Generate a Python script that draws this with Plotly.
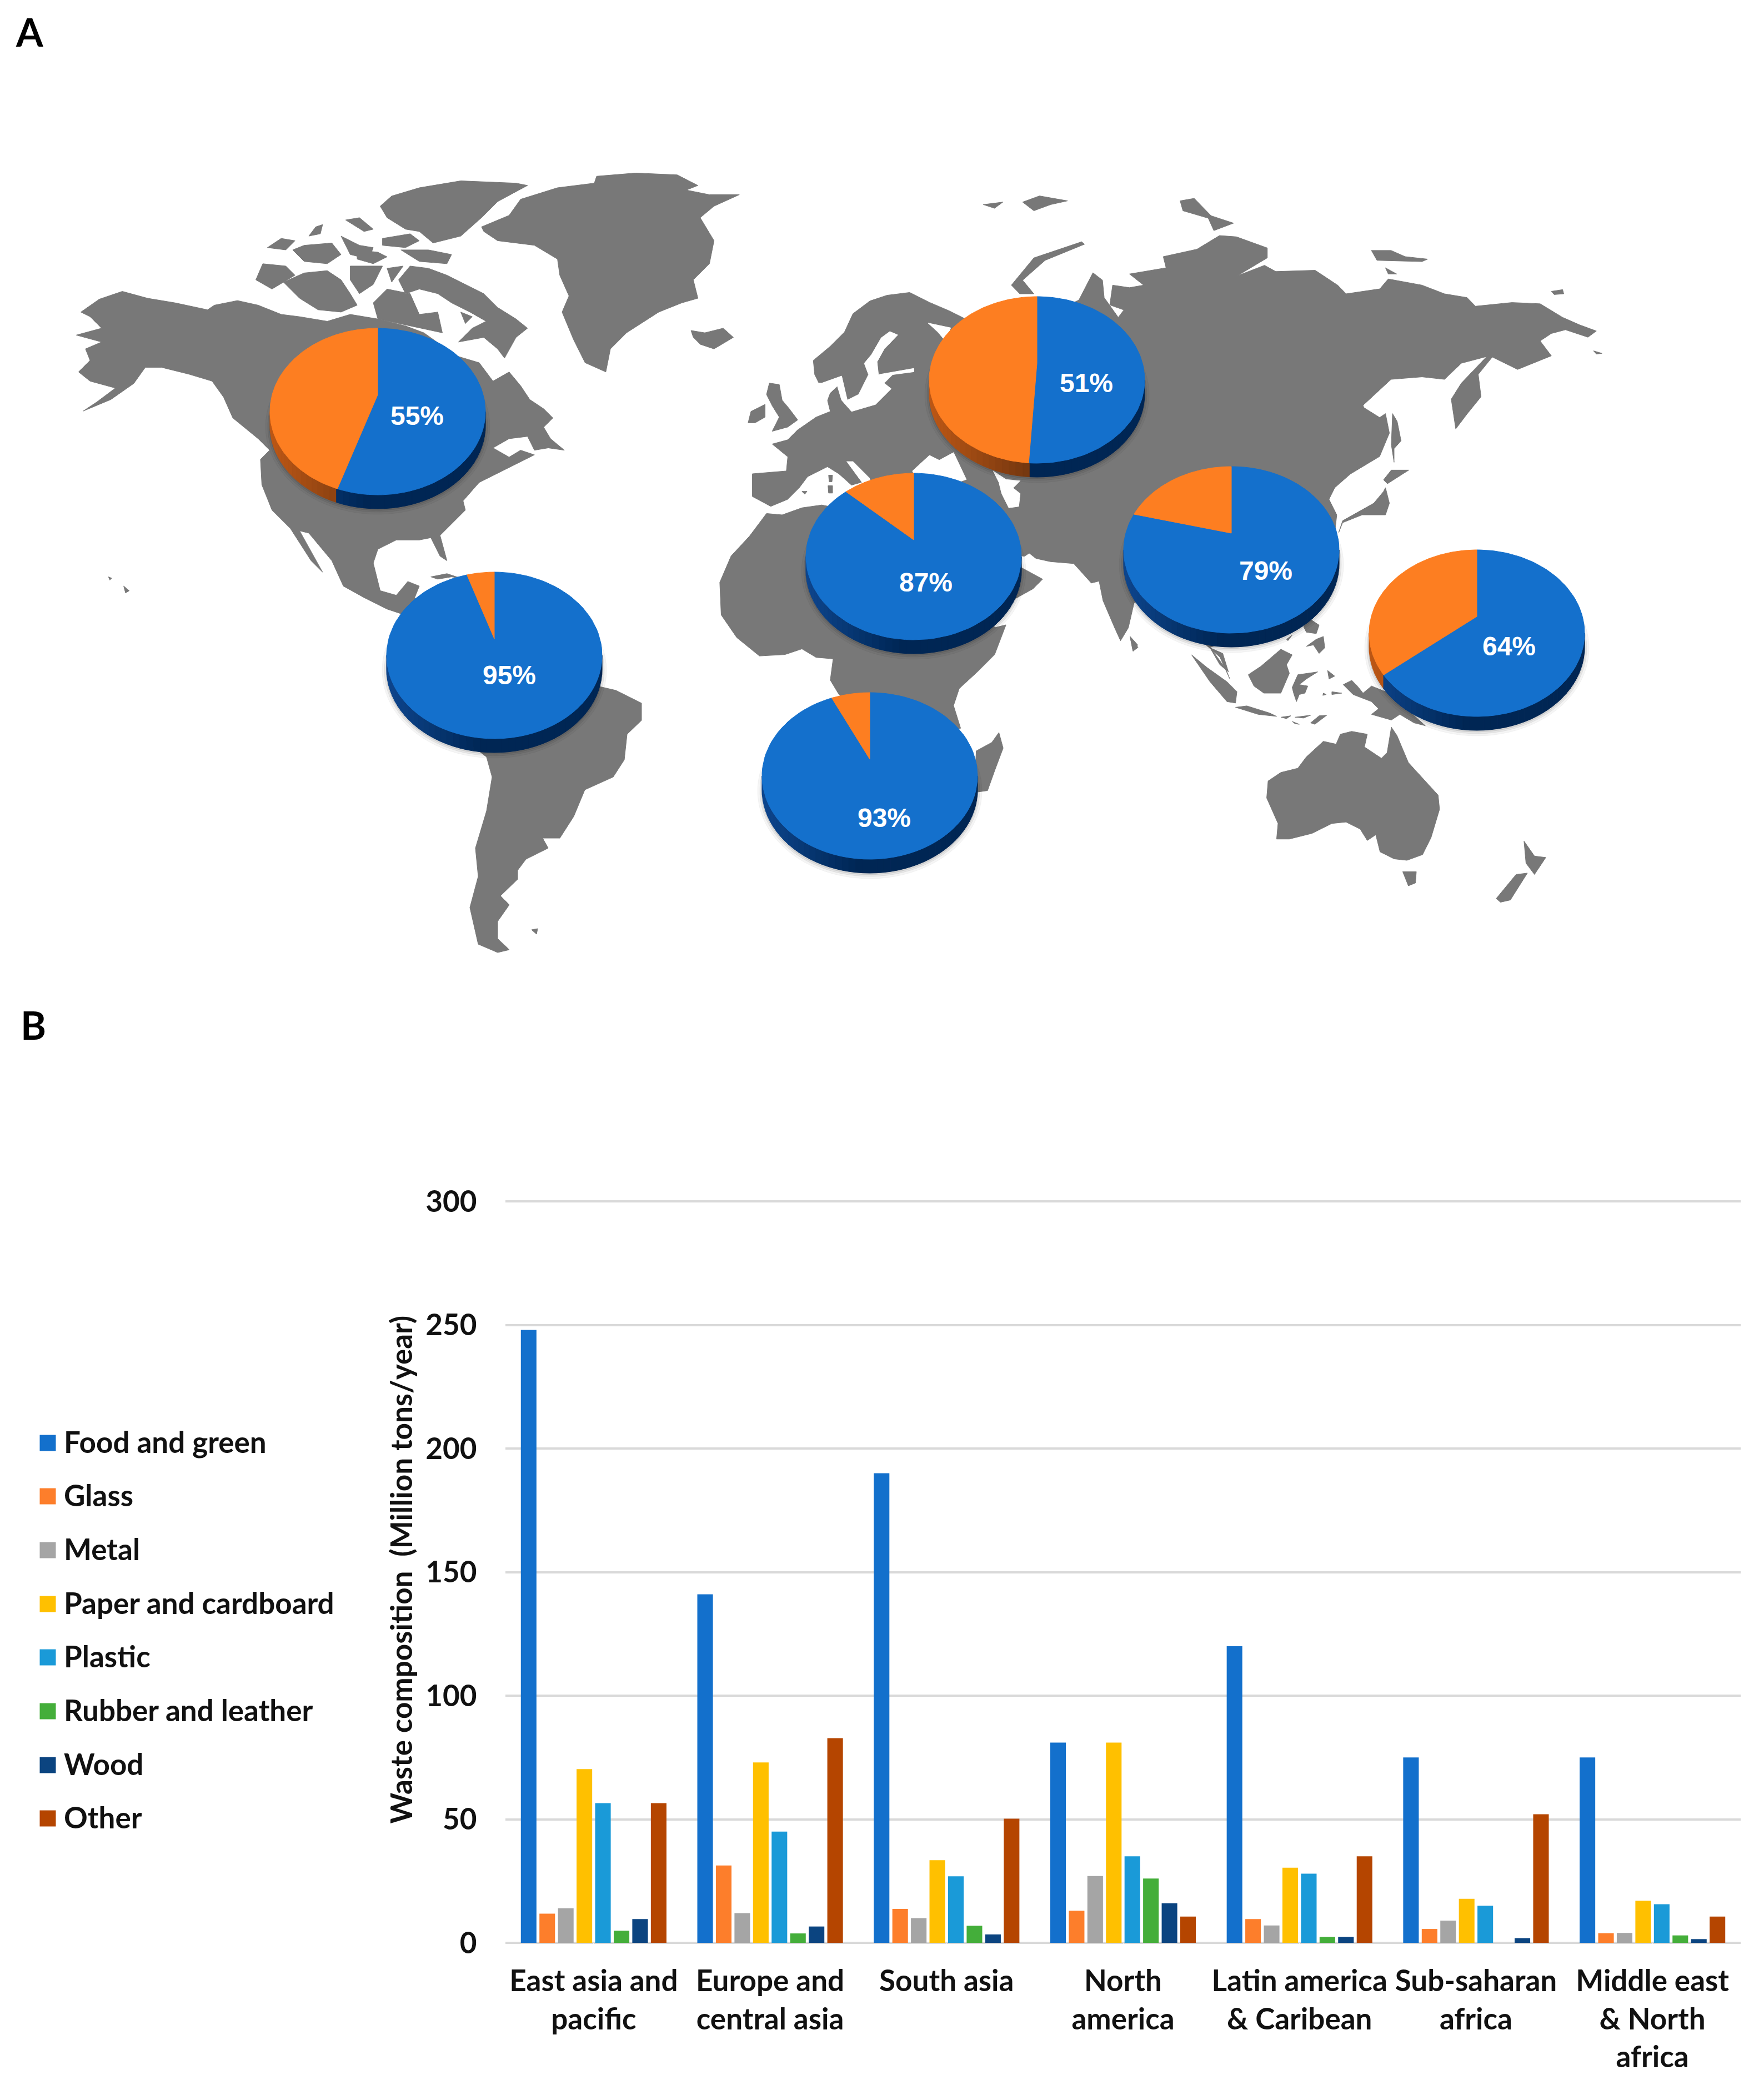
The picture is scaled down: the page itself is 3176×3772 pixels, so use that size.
import numpy as np
import plotly.graph_objects as go

# ---- bar chart data, million tons / year
REGIONS = ["East asia and<br>pacific", "Europe and<br>central asia", "South asia", "North<br>america",
           "Latin america<br>&amp; Caribean", "Sub-saharan<br>africa", "Middle east<br>&amp; North<br>africa"]
FOOD = [248, 141, 190, 81, 120, 75, 75]
GLASS = [11.8, 31.3, 13.7, 13, 9.6, 5.6, 3.9]
METAL = [14, 12, 10, 27, 7, 9, 4]
PAPER = [70.3, 73, 33.4, 81, 30.4, 17.8, 17]
PLASTIC = [56.5, 45, 26.9, 35, 28, 15, 15.6]
RUBBER = [4.9, 3.8, 6.9, 26, 2.4, 0, 3]
WOOD = [9.6, 6.6, 3.4, 16, 2.4, 1.9, 1.5]
OTHER = [56.5, 82.8, 50.2, 10.6, 35, 52, 10.6]
SERIES_NAMES = ["Food and green", "Glass", "Metal", "Paper and cardboard", "Plastic", "Rubber and leather", "Wood", "Other"]
SERIES_COLORS = ["#1370CC", "#FD7E2B", "#A5A5A5", "#FFC000", "#1A9AD8", "#44AE3A", "#0B4480", "#B54500"]
Y_TICKS = [0, 50, 100, 150, 200, 250, 300]

# ---- pies: share of food and green waste by region
PIE_SHARE = [55, 95, 51, 87, 79, 64, 93]
PIE_CX = [680, 890, 1867, 1645, 2217, 2659, 1566]
PIE_CY = [741, 1180, 684, 1002, 990, 1140, 1397]
PIE_LABEL_X = [751, 917, 1956, 1667, 2279, 2717, 1592]
PIE_LABEL_Y = [753, 1220, 694, 1053, 1032, 1168, 1477]

# ---- map outlines: (x, y) in the crop's 1568 square
C2 = (1588, 250, 1588, 700)
C7 = (100, 280, 1300, 1300)
C8 = (1250, 450, 800, 800)
C9 = (1250, 1000, 800, 800)
C10 = (1800, 450, 1100, 1100)
C11 = (2000, 1100, 800, 800)

N_AMERICA = [(55,340),(95,312),(145,295),(200,310),(260,320),(330,335),(345,325),(395,315),(440,325),(490,345),(530,350),(590,360),(640,345),(700,355),(760,370),(800,385),(870,435),(920,450),(950,490),(985,470),(1010,500),(1030,530),(1060,550),(1080,570),(1060,590),(1075,615),(1105,640),(1070,635),(1040,640),(1025,610),(985,615),(950,635),(985,655),(1010,640),(1040,650),(1000,670),(960,690),(920,710),(885,750),(890,770),(860,800),(835,825),(850,880),(835,870),(815,830),(790,835),(740,835),(700,855),(690,885),(705,945),(740,955),(765,925),(790,935),(780,960),(830,1050),(750,995),(720,985),(670,960),(625,935),(600,880),(550,820),(530,815),(555,860),(580,905),(555,880),(510,810),(470,770),(448,715),(445,660),(465,640),(440,615),(415,595),(385,570),(365,525),(340,490),(290,475),(230,460),(195,460),(170,495),(120,530),(60,555),(90,535),(130,505),(75,490),(50,470),(75,445),(65,420),(100,405),(45,390),(100,375),(75,350)]
ARCTIC_ISLES = [
    [(435,270),(450,235),(500,240),(520,260),(470,290)],
    [(495,275),(540,255),(590,250),(620,270),(640,300),(655,325),(620,340),(570,335),(530,310)],
    [(745,270),(770,240),(810,245),(850,260),(890,280),(930,300),(960,330),(1000,355),(1025,375),(1000,395),(975,440),(960,420),(930,395),(875,405),(905,375),(935,360),(900,340),(860,320),(830,300),(790,290),(760,300)],
    [(690,320),(700,355),(840,385),(830,340),(790,345),(770,300),(720,290)],
    [(460,200),(490,180),(520,185),(500,205)],
    [(515,205),(540,195),(600,190),(620,215),(590,235),(540,230)],
    [(565,155),(580,150),(575,170),(550,175)],
    [(630,140),(660,135),(690,160),(670,165)],
    [(620,175),(660,195),(690,200),(680,225),(640,215)],
    [(655,205),(700,210),(720,220),(690,235),(655,225)],
    [(640,240),(710,240),(690,280),(660,300),(640,270)],
    [(710,180),(770,170),(790,185),(760,200),(710,195)],
    [(750,205),(810,205),(860,215),(850,235),(790,230)],
    [(705,110),(730,88),(790,70),(880,55),(1000,60),(1025,65),(960,100),(925,135),(880,175),(820,190),(790,165),(760,160),(720,135)],
    [(720,245),(755,240),(730,275)],
    [(880,340),(905,350),(890,365)],
    [(815,915),(850,908),(880,918),(860,915),(830,920)],
    [(148,935),(160,945),(152,950)],
    [(115,915),(122,918),(118,922)],
]
GREENLAND = [(925,155),(985,130),(1010,95),(1090,70),(1170,60),(1175,45),(1260,38),(1350,42),(1395,65),(1370,75),(1420,85),(1485,85),(1430,110),(1400,135),(1430,185),(1420,235),(1385,270),(1395,310),(1360,320),(1310,340),(1240,385),(1205,420),(1195,470),(1150,450),(1125,400),(1100,340),(1115,305),(1095,260),(1090,225),(1040,195),(960,185),(930,165)]
ICELAND = [(1380,380),(1410,385),(1450,375),(1472,395),(1430,420),(1400,410),(1385,395)]
S_AMERICA = [(1079,1236),(1109,1243),(1155,1266),(1155,1297),(1129,1322),(1124,1368),(1104,1399),(1053,1422),(1033,1470),(1008,1509),(977,1509),(987,1527),(947,1547),(932,1567),(932,1583),(901,1613),(917,1629),(896,1659),(896,1690),(917,1710),(896,1715),(861,1700),(846,1634),(861,1578),(856,1527),(876,1460),(886,1399),(876,1363),(805,1307),(1008,1205)]
FALKLANDS = [(957,1674),(968,1672),(966,1682)]

EUROPE_WEST = [(205,790),(325,780),(330,730),(275,685),(330,670),(365,635),(430,590),(480,570),(470,530),(425,440),(420,390),(480,340),(530,290),(560,225),(620,180),(680,160),(760,150),(830,185),(900,215),(950,240),(1100,300)]
RUSSIA_NORTH = [(350,650),(375,540),(392,570),(395,640),(420,720),(430,690),(405,670),(410,590),(440,600),(465,590),(440,545),(505,520),(500,475),(560,445),(600,390),(630,395),(685,440),(685,480),(632,552),(680,510),(700,535),(770,530),(810,590),(825,625),(885,605),(900,565),(960,590),(1000,625),(1040,640),(1055,675),(1120,660),(1170,665),(1210,720),(1240,750),(1270,775),(1255,800),(1215,770),(1190,785),(1170,815),(1190,875),(1130,930),(1085,880),(1060,950),(1065,1040),(1040,1110),(1020,1170),(1012,1050),(1030,985),(1075,878),(1030,905),(1000,970),(960,960),(905,970),(855,1075)]
ASIA_SOUTH = [(935,405),(975,430),(990,420),(1000,470),(975,530),(900,575),(860,610),(845,640),(865,680),(855,770),(780,900),(720,970),(600,1000),(540,1020),(580,1075),(590,1100),(565,1045),(525,1010),(480,960),(400,900),(345,905),(330,970),(310,1003),(295,970),(265,900),(255,850),(235,855),(190,805),(130,800),(85,790),(55,785),(55,815),(110,845),(85,870),(40,895),(15,930),(-50,850)]
EUROPE_SOUTH = [(1100,1100),(800,900),(650,900),(620,805),(560,745),(535,745),(590,820),(555,830),(510,790),(470,765),(400,800),(370,840),(330,880),(270,905),(205,870)]
BRITAIN = [(255,510),(265,470),(300,475),(310,530),(335,560),(365,600),(330,625),(275,640),(300,590),(275,550)]
IRELAND = [(190,610),(200,570),(250,545),(250,590),(215,610)]
MED_ISLES = [[(474,795),(488,795),(486,818),(476,818)], [(472,832),(488,832),(488,858),(474,858)], [(380,852),(398,852),(390,862)]]
AFRICA_NORTH = [(195,1010),(255,930),(310,935),(380,910),(450,900),(700,950),(1000,1000)]
AFRICA_SOUTH = [(1000,100),(1060,255),(1100,245),(1060,350),(1000,410),(935,470),(915,530),(940,610),(700,650),(540,520),(510,490),(480,440),(490,365),(430,360),(380,330),(320,350),(230,355),(150,290),(95,210),(90,95)]
AFRICA_WEST = [(130,1080)]
MADAGASCAR = [(995,690),(1050,660),(1075,625),(1090,680),(1060,760),(1035,830),(1000,835),(990,800)]

ARCTIC_RU = [
    [(180,265),(215,255),(200,280)],
    [(250,255),(280,230),(330,250),(300,265),(270,290)],
    [(230,590),(270,480),(355,415),(360,425),(290,490),(250,570),(270,625),(245,625)],
    [(530,250),(555,240),(585,310),(625,340),(590,370),(580,320),(535,290)],
    [(870,450),(905,450),(930,475),(970,485),(960,495),(880,490)],
    [(895,520),(915,545),(900,545)],
    [(1190,615),(1210,608),(1212,625),(1195,628)],
    [(1265,855),(1280,865),(1270,868)],
]
JAPAN_ETC = [
    [(1008,420),(1020,440),(1030,490),(1012,510),(1012,545),(1005,500)],
    [(985,590),(1005,565),(1050,565),(1010,590),(995,600)],
    [(990,610),(1000,650),(990,680),(930,680),(880,700),(870,725),(880,695),(960,650),(985,620)],
    [(335,995),(355,1020),(342,1030)],
]
INDONESIA_ETC = [
    [(285,155),(340,200),(410,250),(445,285),(440,325),(410,320),(350,250)],
    [(350,130),(395,150),(415,215),(385,190)],
    [(485,225),(530,195),(600,135),(640,155),(620,190),(630,220),(600,290),(540,290),(505,265)],
    [(640,270),(660,225),(730,215),(690,240),(665,260),(695,265),(685,290),(665,295),(655,320),(645,290)],
    [(440,340),(480,335),(560,360),(585,372),(520,365)],
    [(600,375),(635,370),(620,380)],
    [(650,375),(705,368),(680,378)],
    [(705,395),(735,370),(762,368),(720,400)],
    [(640,390),(665,400),(650,398)],
    [(820,260),(850,245),(870,265),(890,290),(920,265),(970,285),(1010,310),(1060,360),(1110,405),(1070,395),(1020,365),(990,385),(920,365),(945,345),(920,320),(855,295)],
    [(765,210),(790,230),(770,240)],
    [(750,290),(760,295),(748,298)],
    [(780,285),(815,290),(780,295)],
    [(680,55),(705,30),(735,50),(725,80),(690,75)],
    [(690,125),(725,100),(750,90),(755,130),(735,150),(715,120)],
    [(620,100),(640,85),(625,105)],
    [(68,90),(95,120),(78,140)],
]
AUSTRALIA = [(555,600),(600,570),(660,555),(690,515),(750,460),(795,470),(810,435),(850,425),(905,435),(895,480),(955,520),(975,500),(990,410),(1010,440),(1050,535),(1110,600),(1155,650),(1160,700),(1130,800),(1100,860),(1045,880),(1000,875),(950,850),(935,790),(905,810),(880,770),(830,745),(780,750),(710,785),(630,805),(585,805),(590,750),(550,660)]
TASMANIA = [(1030,920),(1078,920),(1075,960),(1050,970)]
NEW_ZEALAND = [[(1458,812),(1495,865),(1535,870),(1495,930),(1465,890)], [(1360,1015),(1430,930),(1470,925),(1410,1020),(1375,1028)]]

# inland seas cut back out of the land
BALTIC = [(420,470),(450,470),(520,445),(540,530),(580,510),(600,470),(615,440),(600,400),(625,370),(660,310),(690,288),(718,300),(670,350),(645,395),(650,440),(775,418),(775,430),(700,440),(670,470),(695,490),(640,545),(555,570),(520,530),(505,480),(478,505),(465,540)]
BLACK_SEA = [(770,780),(830,725),(870,745),(850,750),(915,715),(960,810),(900,830),(780,800)]
CASPIAN = [(1055,780),(1100,810),(1150,815),(1125,840),(1150,860),(1145,905),(1110,910),(1085,860),(1075,820)]
PERSIAN_GULF = [(1155,1090),(1182,1072),(1230,1110),(1200,1100),(1175,1105),(1155,1115)]
WHITE_SEA = [(825,258),(905,275),(885,320),(860,290)]


def crop(c, pts):
    x0, y0, w, h = c
    return [(x0 + x * w / 1568, y0 + y * h / 1568) for x, y in pts]


def join(polys):
    xs, ys = [], []
    for p in polys:
        xs += [q[0] for q in p] + [p[0][0], None]
        ys += [q[1] for q in p] + [p[0][1], None]
    return xs, ys


land = [crop(C7, N_AMERICA), crop(C7, GREENLAND), crop(C7, ICELAND), S_AMERICA, FALKLANDS]
land += [crop(C7, p) for p in ARCTIC_ISLES]
land.append(crop(C8, EUROPE_WEST) + crop(C2, RUSSIA_NORTH) + crop(C10, ASIA_SOUTH) + crop(C8, EUROPE_SOUTH))
land.append(crop(C8, AFRICA_NORTH) + crop(C9, AFRICA_SOUTH) + crop(C8, AFRICA_WEST))
land += [crop(C8, BRITAIN), crop(C8, IRELAND), crop(C9, MADAGASCAR)]
land += [crop(C8, p) for p in MED_ISLES]
land += [crop(C2, p) for p in ARCTIC_RU]
land += [crop(C10, p) for p in JAPAN_ETC]
land += [crop(C11, p) for p in INDONESIA_ETC]
land += [crop(C11, AUSTRALIA), crop(C11, TASMANIA)]
land += [crop(C11, p) for p in NEW_ZEALAND]
water = [crop(C8, p) for p in (BALTIC, BLACK_SEA, CASPIAN, PERSIAN_GULF, WHITE_SEA)]

fig = go.Figure()


def poly(xs, ys, color):
    fig.add_trace(go.Scatter(x=xs, y=ys, mode="lines", fill="toself", fillcolor=color,
                             line=dict(color=color, width=1), hoverinfo="skip",
                             showlegend=False, xaxis="x", yaxis="y"))


lx, ly = join(land)
poly(lx, ly, "#787878")
wx, wy = join(water)
poly(wx, wy, "#FFFFFF")

# ---- tilted 3D pies
RX, RY, DEPTH, TILT = 194, 150, 25, 0.2
BLUE, ORANGE = "#1470CC", "#FD7E21"


def rim(cx, cy, t):
    # t is the real pie angle clockwise from 12 o'clock, perspective moves the hub up
    v = -np.cos(t)
    w = (v - TILT) / (1 - TILT * v)
    u = np.sign(np.sin(t)) * np.sqrt(np.clip(1 - w * w, 0, 1))
    return cx + RX * u, cy + RY * w


def mix(a, b, f):
    return "rgb(%d,%d,%d)" % tuple(a[i] + (b[i] - a[i]) * f for i in range(3))


for share, cx, cy in zip(PIE_SHARE, PIE_CX, PIE_CY):
    phi = np.linspace(0, 2 * np.pi, 90)
    for grow, alpha in [(8, 0.04), (4, 0.06), (1, 0.08)]:
        poly(list(cx + (RX + grow) * np.cos(phi)), list(cy + DEPTH + 2 + (RY + grow) * np.sin(phi)),
             "rgba(0,0,0,%.2f)" % alpha)
    end = 2 * np.pi * share / 100
    # side wall, strip by strip along the front rim
    edges = np.linspace(np.pi, 0, 49)
    for a, b in zip(edges[:-1], edges[1:]):
        xa, ya = cx + RX * np.cos(a), cy + RY * np.sin(a)
        xb, yb = cx + RX * np.cos(b), cy + RY * np.sin(b)
        m = (a + b) / 2
        w = np.sin(m)
        v = (w + TILT) / (1 + TILT * w)
        th = np.arccos(-v) if np.cos(m) > 0 else 2 * np.pi - np.arccos(-v)
        f = min(1, (np.cos(m) + 1) / 0.9)
        if th > end:
            col = mix((190, 88, 22), (118, 56, 16), f)
        else:
            col = mix((14, 70, 142), (0, 38, 84), f)
        poly([xa, xb, xb, xa, xa], [ya, yb, yb + DEPTH, ya + DEPTH, ya], col)
    hub = (cx, cy - TILT * RY)
    for a, b, col in [(0, end, BLUE), (end, 2 * np.pi, ORANGE)]:
        ts = np.linspace(a, b, 100)
        pts = [rim(cx, cy, t) for t in ts]
        poly([hub[0]] + [p[0] for p in pts] + [hub[0]], [hub[1]] + [p[1] for p in pts] + [hub[1]], col)

fig.add_trace(go.Scatter(x=PIE_LABEL_X, y=PIE_LABEL_Y, mode="text", text=["%d%%" % s for s in PIE_SHARE],
                         textposition="middle center", hoverinfo="skip", showlegend=False,
                         textfont=dict(family="Liberation Sans", size=48, color="white", weight="bold"),
                         xaxis="x", yaxis="y"))

# ---- hand made legend, plotly keeps its own swatches too small at this size
LEGEND_Y = [2598, 2694, 2791, 2888, 2984, 3081, 3178, 3274]
LEGEND_TEXT_Y = [2603, 2699, 2796, 2893, 2989, 3086, 3183, 3279]
fig.add_trace(go.Scatter(x=[86] * 8, y=LEGEND_Y, mode="markers", hoverinfo="skip", showlegend=False,
                         marker=dict(symbol="square", size=29, color=SERIES_COLORS), xaxis="x", yaxis="y"))
fig.add_trace(go.Scatter(x=[115] * 8, y=LEGEND_TEXT_Y, mode="text", text=SERIES_NAMES, textposition="middle right",
                         hoverinfo="skip", showlegend=False,
                         textfont=dict(family="Lato", size=53, color="#111111", weight="bold"),
                         xaxis="x", yaxis="y"))

# ---- bars
for name, vals, color in zip(SERIES_NAMES, [FOOD, GLASS, METAL, PAPER, PLASTIC, RUBBER, WOOD, OTHER], SERIES_COLORS):
    fig.add_trace(go.Bar(x=REGIONS, y=vals, name=name, marker_color=color, marker_line_width=0,
                         showlegend=False, xaxis="x2", yaxis="y2"))

W, H = 3176, 3772
Y_TOP = 302
fig.update_layout(
    width=W, height=H, margin=dict(l=0, r=0, t=0, b=0), paper_bgcolor="white", plot_bgcolor="white",
    barmode="group", bargap=0.158, bargroupgap=0.16, showlegend=False,
    font=dict(family="Lato", color="#111111"),
    xaxis=dict(domain=[0, 1], range=[0, W], visible=False, fixedrange=True, automargin=False),
    yaxis=dict(domain=[0, 1], range=[H, 0], visible=False, fixedrange=True, automargin=False),
    xaxis2=dict(domain=[910 / W, 3134 / W], anchor="y2", type="category", categoryorder="array",
                categoryarray=REGIONS, showgrid=False, showline=False, zeroline=False, tickangle=0,
                automargin=False, ticks="outside", ticklen=22, tickcolor="white",
                tickfont=dict(family="Lato", size=53, color="#111111", weight="bold")),
    yaxis2=dict(domain=[1 - 3498 / H, 1 - (3498 - Y_TOP * 4.45) / H], anchor="x2", range=[0, Y_TOP], tickvals=Y_TICKS,
                showgrid=True, gridcolor="#D9D9D9", gridwidth=4, zeroline=True, zerolinecolor="#D9D9D9", zerolinewidth=4,
                automargin=False, showline=False, ticks="outside", ticklen=40, tickcolor="white",
                tickfont=dict(family="Lato", size=53, color="#111111", weight="bold"),
                title=dict(text="Waste composition  (Million tons/year)", standoff=6,
                           font=dict(family="Lato", size=53, color="#111111", weight="bold"))),
    annotations=[
        dict(x=53, y=57, xref="x", yref="y", text="A", showarrow=False,
             font=dict(family="Lato", size=70, color="black", weight="bold")),
        dict(x=60, y=1845, xref="x", yref="y", text="B", showarrow=False,
             font=dict(family="Lato", size=70, color="black", weight="bold")),
    ],
)

fig.write_html("out.html", config={"displayModeBar": False}, post_script="document.body.style.margin='0';")
